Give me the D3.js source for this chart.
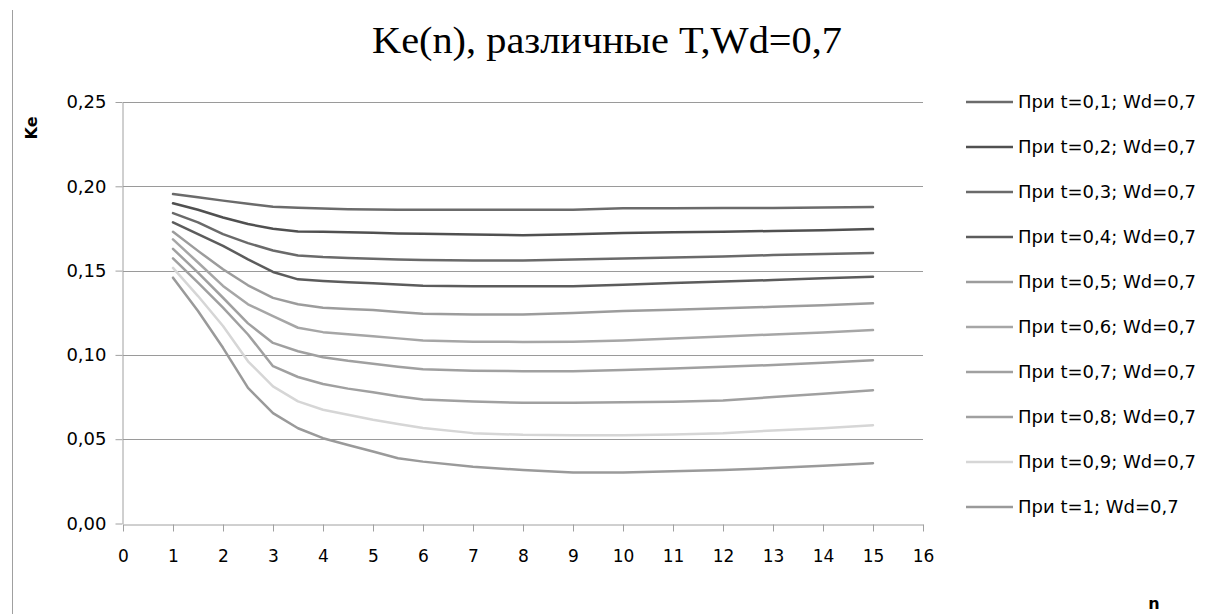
<!DOCTYPE html>
<html>
<head>
<meta charset="utf-8">
<script src="https://cdn.jsdelivr.net/npm/d3@7"></script>
<style>
  body { margin: 0; background: #fff; }
  text { font-family: "DejaVu Sans", Verdana, sans-serif; }
</style>
</head>
<body>
<div id="canvas"></div>
<script>
"use strict"

/* Data */
let nValues = [1, 1.5, 2, 2.5, 3, 3.5, 4, 4.5, 5, 5.5, 6, 7, 8, 9, 10, 11, 12, 13, 14, 15];

let ke01 = [.1954, .1935, .1915, .1897, .1879, .1873, .1868, .1864, .1862, .1861, .1861, .1861, .1861, .1861, .1870, .1870, .1871, .1872, .1874, .1877];
let ke02 = [.1899, .1861, .1815, .1776, .1748, .1732, .1730, .1727, .1724, .1720, .1718, .1714, .1710, .1716, .1723, .1727, .1731, .1735, .1740, .1746];
let ke03 = [.1841, .1786, .1716, .1663, .1619, .1589, .1580, .1575, .1570, .1566, .1563, .1560, .1560, .1566, .1572, .1577, .1584, .1592, .1599, .1605];
let ke04 = [.1786, .1716, .1647, .1567, .1492, .1448, .1438, .1431, .1425, .1417, .1410, .1407, .1407, .1407, .1416, .1426, .1435, .1444, .1454, .1464];
let ke05 = [.1730, .1617, .1508, .1413, .1338, .1300, .1280, .1272, .1266, .1255, .1244, .1240, .1240, .1249, .1260, .1268, .1276, .1285, .1295, .1306];
let ke06 = [.1685, .1548, .1409, .1300, .1230, .1161, .1135, .1122, .1111, .1098, .1085, .1078, .1077, .1078, .1085, .1098, .1109, .1121, .1133, .1147];
let ke07 = [.1629, .1488, .1339, .1187, .1071, .1022, .0986, .0965, .0948, .0930, .0915, .0906, .0903, .0903, .0910, .0920, .0929, .0940, .0953, .0968];
let ke08 = [.1573, .1429, .1280, .1121, .0933, .0869, .0827, .0800, .0778, .0755, .0736, .0724, .0716, .0716, .0719, .0722, .0730, .0750, .0770, .0790];
let ke09 = [.1516, .1349, .1171, .0962, .0813, .0724, .0675, .0645, .0615, .0590, .0566, .0536, .0526, .0524, .0524, .0528, .0536, .0552, .0565, .0583];
let ke10 = [.1458, .1260, .1042, .0804, .0655, .0565, .0506, .0466, .0427, .0387, .0367, .0337, .0317, .0302, .0302, .0310, .0317, .0329, .0343, .0357];

let seriesNames = [
    "При t=0,1; Wd=0,7", "При t=0,2; Wd=0,7", "При t=0,3; Wd=0,7",
    "При t=0,4; Wd=0,7", "При t=0,5; Wd=0,7", "При t=0,6; Wd=0,7",
    "При t=0,7; Wd=0,7", "При t=0,8; Wd=0,7", "При t=0,9; Wd=0,7",
    "При t=1; Wd=0,7"
];
let seriesValues = [ke01, ke02, ke03, ke04, ke05, ke06, ke07, ke08, ke09, ke10];
let seriesColors = ["#6b6b6b", "#505050", "#6a6a6a", "#5c5c5c", "#9c9c9c",
    "#a6a6a6", "#a0a0a0", "#a0a0a0", "#d6d6d6", "#9a9a9a"];

let xTicks = d3.range(0, 17);
let yTicks = [0, 0.05, 0.10, 0.15, 0.20, 0.25];

/* Drawing configuration */
let svgWidth = 1226;
let svgHeight = 614;

let svg = d3.select("#canvas")
    .append("svg")
    .attr("width", svgWidth)
    .attr("height", svgHeight);

let xScale = d3.scaleLinear()
    .domain([0, 16])
    .range([123, 923]);

let yScale = d3.scaleLinear()
    .domain([0, 0.25])
    .range([523.5, 102]);

/* outer left border */
svg.append("line")
    .attr("x1", 12.5).attr("x2", 12.5)
    .attr("y1", 10).attr("y2", svgHeight)
    .attr("stroke", "#a0a0a0");

/* title */
svg.append("text")
    .attr("x", 607)
    .attr("y", 53)
    .attr("text-anchor", "middle")
    .attr("textLength", 470)
    .attr("lengthAdjust", "spacingAndGlyphs")
    .style("font-family", "'Liberation Serif', 'Times New Roman', serif")
    .style("font-size", "38px")
    .text("Ke(n), различные T,Wd=0,7");

/* grid lines */
svg.append("g")
    .selectAll("line")
    .data(yTicks.slice(1))
    .join("line")
    .attr("x1", xScale(0))
    .attr("x2", xScale(16))
    .attr("y1", d => Math.round(yScale(d)) + 0.5)
    .attr("y2", d => Math.round(yScale(d)) + 0.5)
    .attr("stroke", "#9a9a9a");

/* axes */
let yAxis = svg.append("g")
    .attr("transform", "translate(" + (xScale(0) - 0.5) + ",0)")
    .call(d3.axisLeft(yScale)
        .tickValues(yTicks)
        .tickSize(7)
        .tickSizeOuter(0)
        .tickPadding(9)
        .tickFormat(d => d.toFixed(2).replace(".", ",")));

let xAxis = svg.append("g")
    .attr("transform", "translate(0," + (Math.round(yScale(0)) + 0.5) + ")")
    .call(d3.axisBottom(xScale)
        .tickValues(xTicks)
        .tickSize(7)
        .tickSizeOuter(0)
        .tickPadding(18)
        .tickFormat(d => String(d)));

svg.selectAll(".domain, .tick line").attr("stroke", "#a0a0a0");
yAxis.selectAll("text")
    .style("font-family", "'DejaVu Sans', sans-serif")
    .style("font-size", "18px")
    .attr("fill", "#000");
xAxis.selectAll("text")
    .style("font-family", "'DejaVu Sans', sans-serif")
    .style("font-size", "17px")
    .attr("fill", "#000");

/* axis titles */
svg.append("text")
    .attr("transform", "translate(37,128) rotate(-90)")
    .attr("text-anchor", "middle")
    .style("font-size", "16px")
    .style("font-weight", "bold")
    .text("Ke");

svg.append("text")
    .attr("x", 1154)
    .attr("y", 609)
    .attr("text-anchor", "middle")
    .style("font-size", "16px")
    .style("font-weight", "bold")
    .text("n");

/* series lines */
let line = d3.line()
    .x((d, i) => xScale(nValues[i]))
    .y(d => yScale(d));

svg.append("g")
    .selectAll("path")
    .data(seriesValues)
    .join("path")
    .attr("fill", "none")
    .attr("stroke", (d, i) => seriesColors[i])
    .attr("stroke-width", 2.5)
    .attr("stroke-linejoin", "round")
    .attr("stroke-linecap", "round")
    .attr("d", line);

/* legend */
let legend = svg.append("g")
    .selectAll("g")
    .data(seriesNames)
    .join("g")
    .attr("transform", (d, i) => "translate(966," + (102 + i * 45) + ")");

legend.append("line")
    .attr("x1", 0).attr("x2", 47)
    .attr("stroke", (d, i) => seriesColors[i])
    .attr("stroke-width", 2.5);

legend.append("text")
    .attr("x", 52)
    .attr("dy", "0.35em")
    .style("font-size", "18px")
    .text(d => d);
</script>
</body>
</html>
